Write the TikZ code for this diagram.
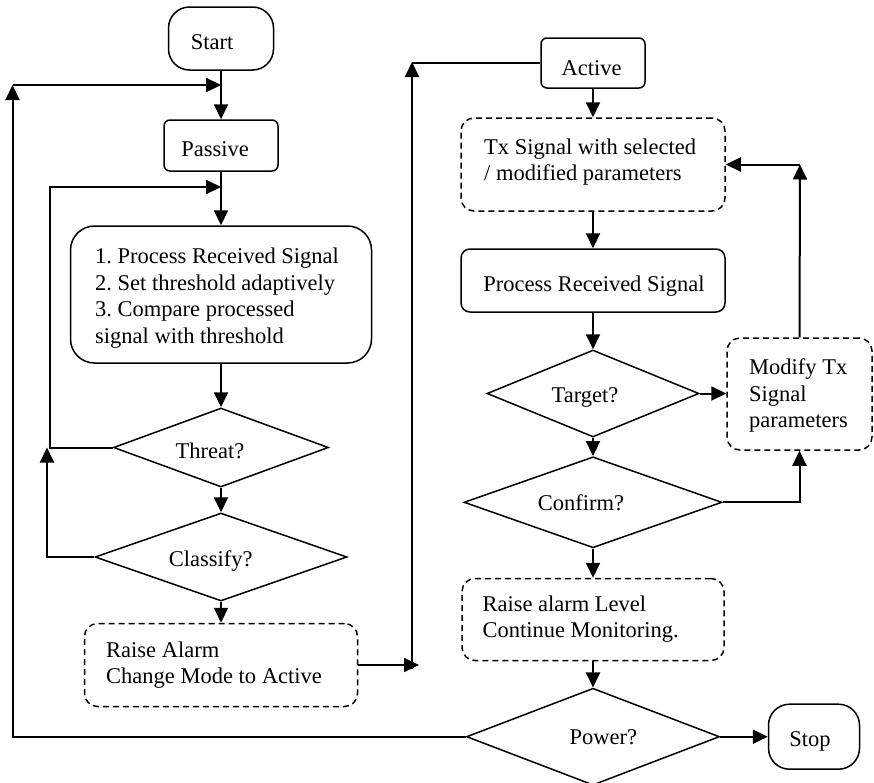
\documentclass[tikz,border=0pt]{standalone}
\usepackage{fontspec}
\setmainfont{Liberation Serif}
\usetikzlibrary{shapes.geometric,arrows.meta}
\begin{document}
\frenchspacing
\begin{tikzpicture}[x=1pt,y=-1pt,
  every node/.style={font=\fontsize{22.5}{26.5}\selectfont},
  outline/.style={draw=black, line width=1.5pt, inner sep=0pt},
  term/.style={outline, rounded corners=21pt},
  stepbox/.style={outline, rounded corners=#1},
  stepbox/.default=6pt,
  dbox/.style={outline, dash pattern=on 6pt off 4pt, rounded corners=13pt},
  decision/.style={outline, diamond},
  label/.style={inner sep=0pt, text=black},
  para/.style={inner sep=0pt, text=black, align=left, anchor=north west},
  link/.style={draw=black, line width=2pt},
  arr/.style={link, -{Triangle[length=15pt,width=14pt]}},
]
\useasboundingbox (0,0) rectangle (874,782);

% ---------- shapes, passive branch ----------
\node[term, minimum width=105pt, minimum height=63pt] (start) at (221,38.5) {};
\node[stepbox, minimum width=114pt, minimum height=51pt] (passive) at (221,145.5) {};
\node[stepbox=24pt, minimum width=301pt, minimum height=137pt] (proc) at (221,294.5) {};
\node[decision, minimum width=215pt, minimum height=79pt] (threat) at (221,447.5) {};
\node[decision, minimum width=252pt, minimum height=88pt] (classify) at (221,557) {};
\node[dbox, minimum width=273pt, minimum height=83pt] (alarm) at (221,665) {};

% ---------- shapes, active branch ----------
\node[stepbox, minimum width=104pt, minimum height=50pt] (active) at (593,63) {};
\node[dbox, minimum width=264pt, minimum height=93pt] (tx) at (593,164.5) {};
\node[stepbox=9pt, minimum width=264pt, minimum height=63pt] (proc2) at (593,280.5) {};
\node[decision, minimum width=212pt, minimum height=87pt] (target) at (593,393.5) {};
\node[dbox, minimum width=145pt, minimum height=112pt] (modify) at (799.5,394) {};
\node[decision, minimum width=258pt, minimum height=91pt] (confirm) at (593,502.3) {};
\node[dbox, minimum width=262pt, minimum height=82pt] (level) at (593,619.5) {};
\node[decision, minimum width=253pt, minimum height=97pt] (power) at (593,736.7) {};
\node[term, minimum width=91pt, minimum height=65pt] (stop) at (814,736.7) {};

% ---------- texts ----------
\node[label, anchor=base] (startT) at (212,49.3) {Start};
\node[label, anchor=base] (passiveT) at (215,156) {Passive};
\node[para] (procT) at (95,248) {1. Process Received Signal\\2. Set threshold adaptively\\3. Compare processed\\signal with threshold};
\node[label, anchor=base] (threatT) at (210,458.3) {Threat?};
\node[label, anchor=base] (classifyT) at (210.7,566) {Classify?};
\node[para] (alarmT) at (106,641.5) {Raise Alarm\\Change Mode to Active};

\node[label, anchor=base] (activeT) at (591.7,75) {Active};
\node[para] (txT) at (484,138.6) {Tx Signal with selected\\/ modified parameters};
\node[label, anchor=base] (proc2T) at (594,291) {Process Received Signal};
\node[label, anchor=base] (targetT) at (585,402.3) {Target?};
\node[para] (modifyT) at (749,358.8) {Modify Tx\\Signal\\parameters};
\node[label, anchor=base] (confirmT) at (581,510) {Confirm?};
\node[para] (levelT) at (482.3,595.5) {Raise alarm Level\\Continue Monitoring.};
\node[label, anchor=base] (powerT) at (603.3,744) {Power?};
\node[label, anchor=base] (stopT) at (810,746.7) {Stop};

% ---------- route points ----------
\coordinate (j1) at (221,85);
\coordinate (lcorner) at (12.5,85);
\coordinate (j2) at (221,187);
\coordinate (tloop) at (50,187);
\coordinate (cloop) at (47,447.5);
\coordinate (aTip) at (419,665);
\coordinate (aBot) at (412,669);
\coordinate (aTop) at (412,62);
\coordinate (mTop) at (800,164.5);

% ---------- connectors, passive branch ----------
\draw[arr] (start.south) -- (passive.north);
\draw[arr] (power.west) -| (lcorner);
\draw[arr] (lcorner) -- (j1);
\draw[arr] (passive.south) -- (proc.north);
\draw[arr] (threat.west) -| (tloop) -- (j2);
\draw[arr] (classify.west) -| (cloop);
\draw[arr] (proc.south) -- (threat.north);
\draw[arr] (threat.south) -- (classify.north);
\draw[arr] (classify.south) -- (alarm.north);
\draw[arr] (alarm.east) -- (aTip);
\draw[arr] (aBot) -- (aTop);
\draw[link] (aTop |- active.west) -- (active.west);

% ---------- connectors, active branch ----------
\draw[arr] (active.south) -- (tx.north);
\draw[arr] (tx.south) -- (proc2.north);
\draw[arr] (proc2.south) -- (target.north);
\draw[arr] (target.east) -- (target.east -| modify.west);
\draw[arr] (target.south) -- (confirm.north);
\draw[arr] (confirm.east) -| (modify.south);
\draw[arr] (modify.north) -- (mTop);
\draw[arr] (mTop) -- (tx.east);
\draw[arr] (confirm.south) -- (level.north);
\draw[arr] (level.south) -- (power.north);
\draw[arr] (power.east) -- (stop.west);
\end{tikzpicture}
\end{document}
